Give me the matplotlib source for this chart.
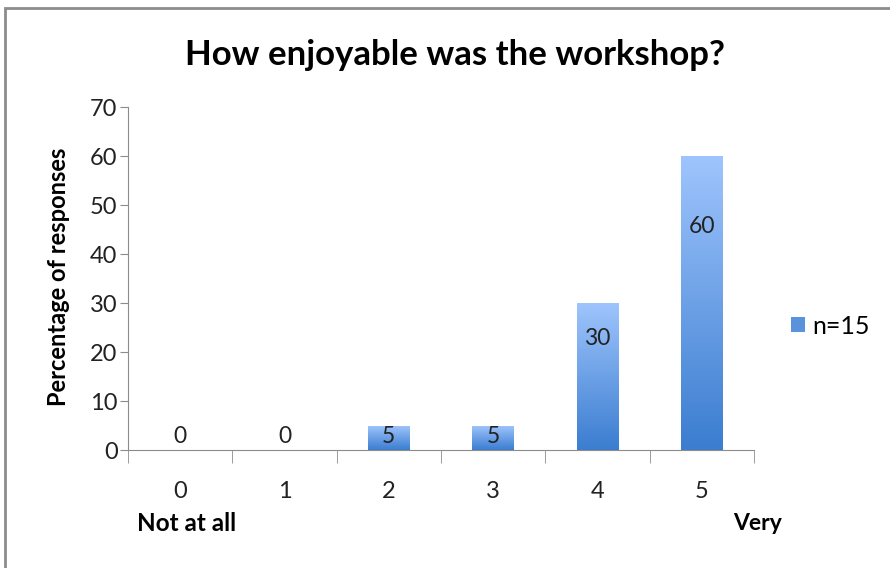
import numpy as np
import matplotlib
matplotlib.use('Agg')
import matplotlib.pyplot as plt
from matplotlib.patches import Rectangle

# Data
categories = ['0', '1', '2', '3', '4', '5']
values = [0, 0, 5, 5, 30, 60]
series_name = 'n=15'

plt.rcParams['font.family'] = ['Lato', 'DejaVu Sans']

fig = plt.figure(figsize=(8.9, 5.68), dpi=100)
ax = fig.add_axes([0.1438, 0.2077, 0.7034, 0.6039])

x = np.arange(len(categories))
bars = ax.bar(x, values, width=0.4, color='none', edgecolor='none', zorder=2)

# vertical gradient fill (light top, darker bottom)
grad = np.linspace(0, 1, 256).reshape(-1, 1)
cmap = matplotlib.colors.LinearSegmentedColormap.from_list('g', ['#3b7dd0', '#9fc5fd'])
for b in bars:
    if b.get_height() <= 0:
        continue
    im = ax.imshow(grad, cmap=cmap, origin='lower', aspect='auto',
                   extent=[b.get_x(), b.get_x() + b.get_width(), 0, b.get_height()], zorder=2)
    im.set_clip_path(b)

ax.set_xlim(-0.5, len(categories) - 0.5)
ax.set_ylim(0, 70)
ax.set_yticks(range(0, 71, 10))
ax.set_xticks(x)
ax.set_xticklabels(categories)
ax.set_xticks(np.arange(-0.5, len(categories)), minor=True)
ax.tick_params(axis='x', which='major', length=0, pad=22, labelsize=17, colors='#222222')
ax.tick_params(axis='x', which='minor', length=9, color='#8c8c8c')
ax.tick_params(axis='y', length=6, pad=1.5, color='#8c8c8c', labelsize=17, labelcolor='#222222')
for s in ['top', 'right']:
    ax.spines[s].set_visible(False)
for s in ['left', 'bottom']:
    ax.spines[s].set_color('#8c8c8c')

# data labels
for xi, v in zip(x, values):
    if v >= 10:
        ly = v * 0.76
    else:
        ly = 2.8
    ax.text(xi, ly, str(v), ha='center', va='center', fontsize=16.5, color='#222222', zorder=3)

ax.set_ylabel('Percentage of responses', fontsize=17, fontweight='bold')
ax.yaxis.set_label_coords(-0.092, 0.504)
fig.text(0.511, 0.903, 'How enjoyable was the workshop?', ha='center', va='center',
         fontsize=25, fontweight='bold')
fig.text(0.154, 0.078, 'Not at all', ha='left', va='center', fontsize=17.5, fontweight='bold')
fig.text(0.824, 0.078, 'Very', ha='left', va='center', fontsize=16.5, fontweight='bold')

handle = Rectangle((0, 0), 1, 1, facecolor='#5a93dc')
fig.legend([handle], [series_name], loc='center left', bbox_to_anchor=(0.889, 0.426),
           frameon=False, fontsize=18, handlelength=0.55, handleheight=0.55, handletextpad=0.3,
           borderaxespad=0, borderpad=0)

# outer chart frame
fig.patches.append(Rectangle((0.0056, -0.05), 1.1, 1.036, transform=fig.transFigure,
                             fill=False, edgecolor='#8c8c8c', linewidth=2))

fig.savefig('out.png', dpi=100)
